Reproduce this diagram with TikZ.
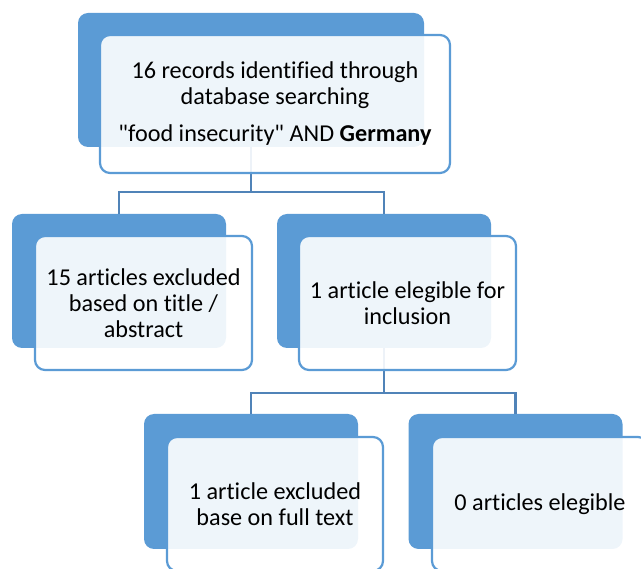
\documentclass[tikz,border=0pt]{standalone}
\usepackage{fontspec}
\setmainfont{Carlito}[Ligatures={NoCommon}]
% plain Carlito without the TeX input mapping, for a straight double quote
\font\straightq="Carlito" at 24.2pt
\newcommand{\sq}{{\straightq\char34}}
\definecolor{smblue}{HTML}{5B9BD5}
\definecolor{smline}{HTML}{5083B8}
\begin{document}
\begin{tikzpicture}[x=1pt,y=-1pt,
  back/.style={fill=smblue, draw=none, rounded corners=10pt, inner sep=0pt,
    minimum width=214pt, minimum height=134pt},
  front/.style={fill=white, fill opacity=0.9, text opacity=1, draw=smblue,
    draw opacity=1, line width=2.2pt, rounded corners=10pt, inner sep=0pt,
    minimum width=216pt, minimum height=134pt, align=center,
    font=\fontsize{24.2}{26}\selectfont},
  conn/.style={draw=smline, line width=2.8pt}]
\useasboundingbox (0,0) rectangle (641,569);

% back (shadow) boxes
\node[back, minimum width=346pt] (topB) at (251,80) {};
\node[back] (aB) at (119,281) {};
\node[back] (bB) at (384,281) {};
\node[back, minimum height=135pt] (cB) at (251,481.5) {};
\node[back, minimum height=135pt] (dB) at (515.5,481.5) {};

% connectors
\coordinate (j1) at (251,192);
\coordinate (j2) at (384,393);
\draw[conn] (topB.south) -- (j1);
\draw[conn] (aB.north) |- (j1) -| (bB.north);
\draw[conn] (bB.south) -- (j2);
\draw[conn] (cB.north) |- (j2) -| (dB.north);

% front boxes with text
\node[front, minimum width=350pt, minimum height=138pt] (top) at (275,104)
  {16 records identified through\\database searching\\[11pt]\sq food insecurity\sq{} AND \textbf{Germany}};
\node[front, minimum width=217pt] (a) at (143.5,303)
  {15 articles excluded\\based on title /\\abstract};
\node[front, minimum width=217pt] (b) at (407.5,303)
  {1 article elegible for\\inclusion};
\node[front] (c) at (275,504)
  {1 article excluded\\base on full text};
\node[front] (d) at (540,504)
  {0 articles elegible};
\end{tikzpicture}
\end{document}
